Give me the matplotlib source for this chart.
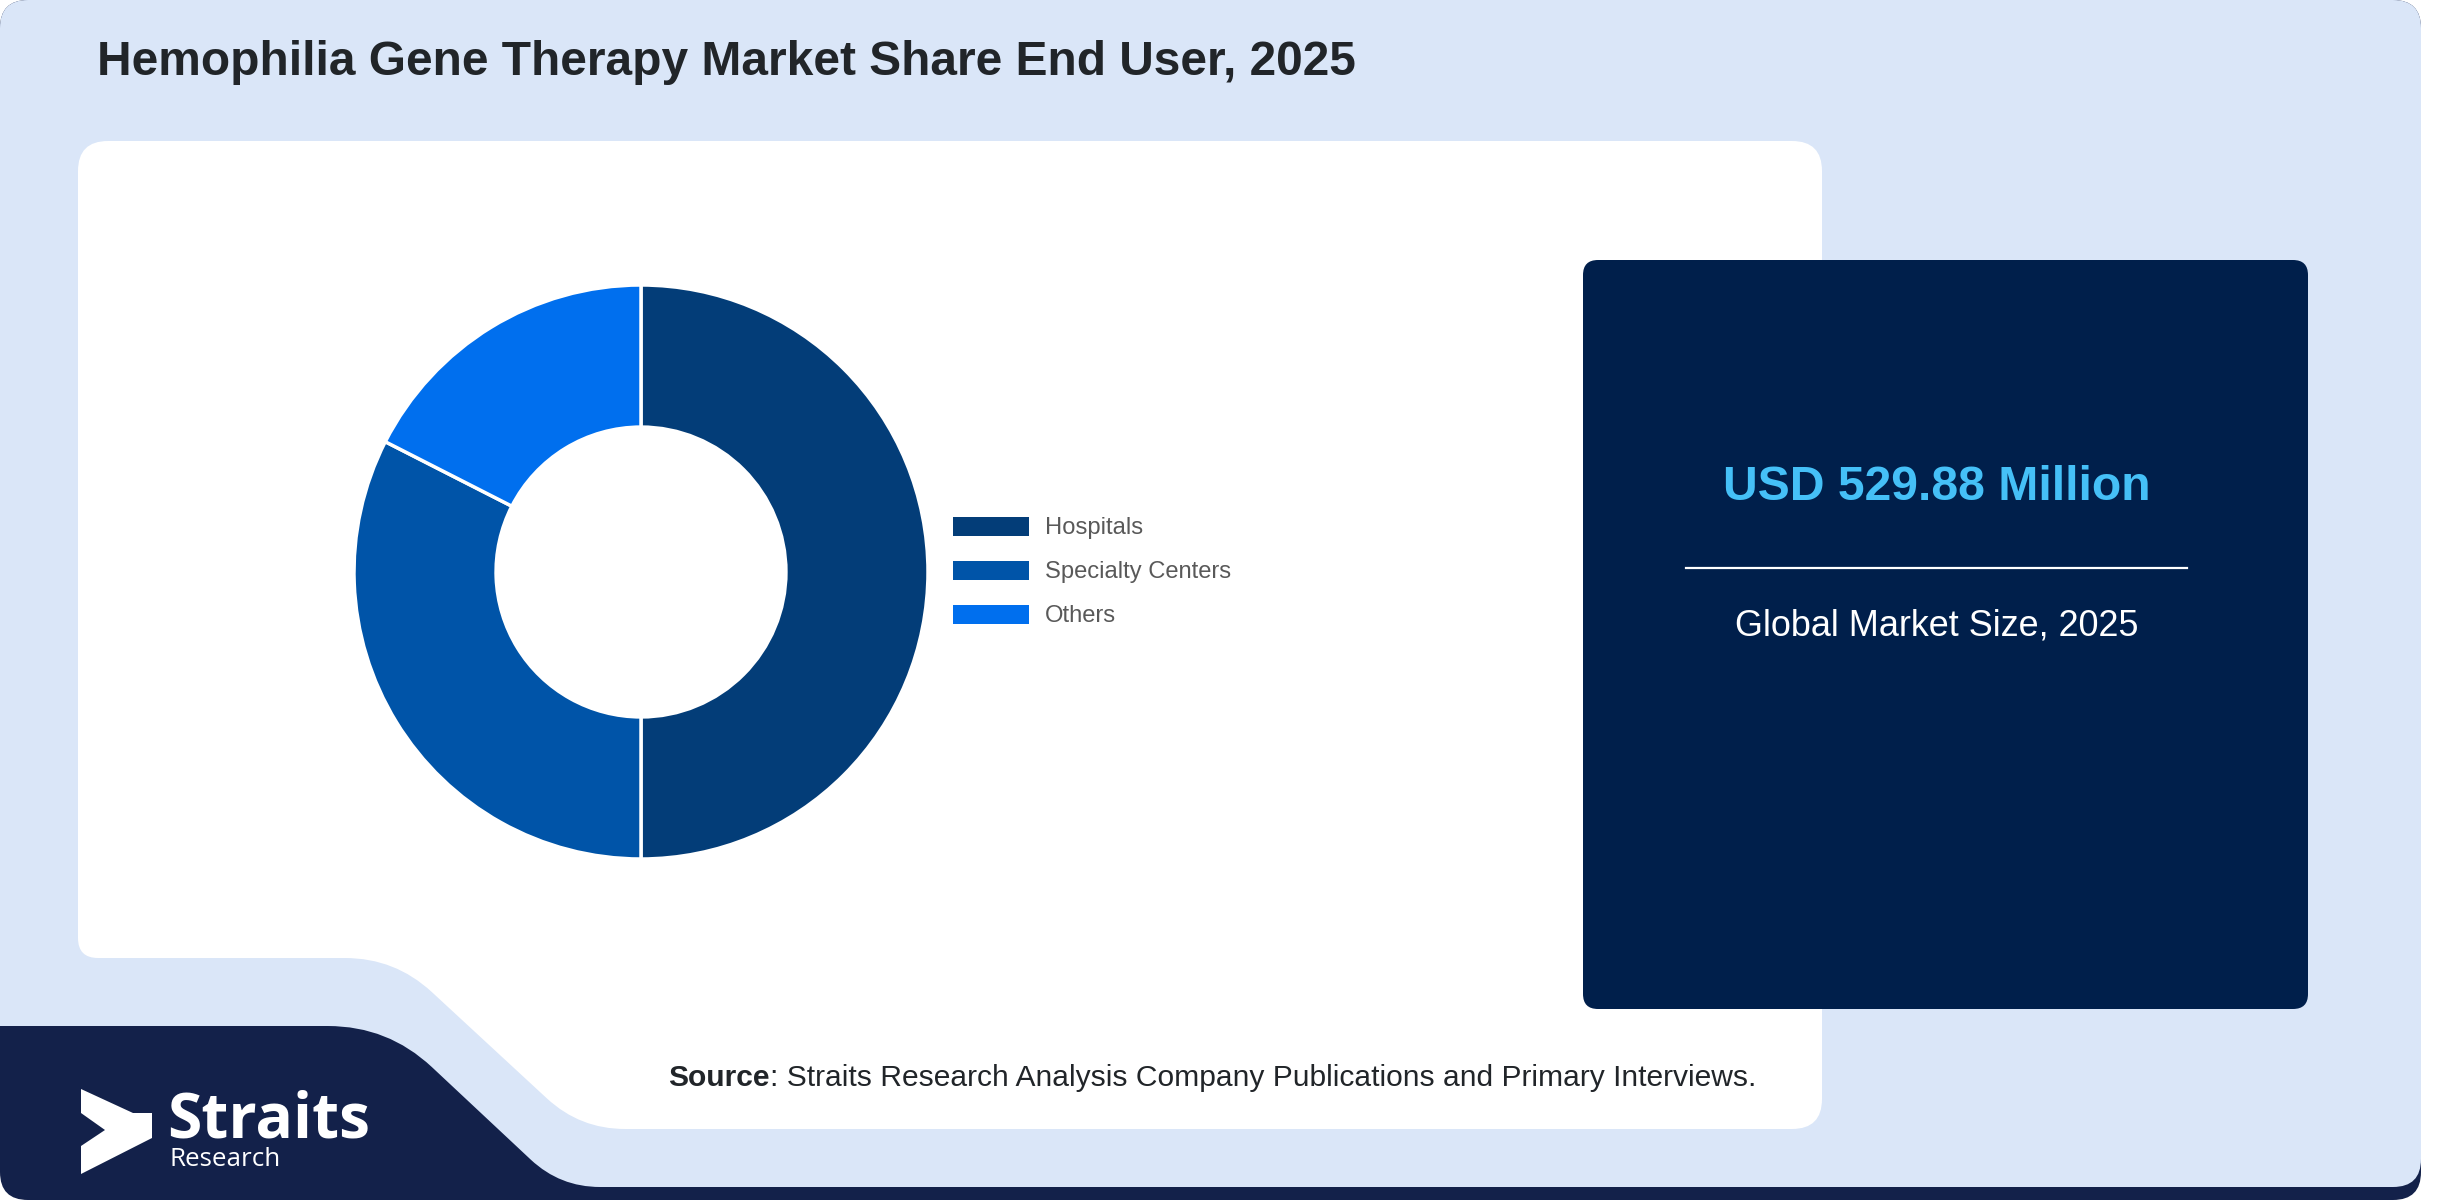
import numpy as np
import matplotlib
matplotlib.use("Agg")
import matplotlib.pyplot as plt
from matplotlib.path import Path
from matplotlib.patches import PathPatch, Polygon, Patch

# data
segments = ["Hospitals", "Specialty Centers", "Others"]
shares = [50.0, 32.5, 17.5]
seg_colors = ["#033d78", "#0054a8", "#006fee"]

title = "Hemophilia Gene Therapy Market Share End User, 2025"
market_value = "USD 529.88 Million"
market_label = "Global Market Size, 2025"
source_rest = ": Straits Research Analysis Company Publications and Primary Interviews."

W, H = 2452, 1200
plt.rcParams['font.family'] = ['Liberation Sans', 'DejaVu Sans']


def rounded_path(pts, radii):
    # polygon with quadratic-bezier corners, radius per vertex
    verts, codes = [], []
    n = len(pts)
    for i in range(n):
        p0 = np.array(pts[i - 1], float)
        p1 = np.array(pts[i], float)
        p2 = np.array(pts[(i + 1) % n], float)
        r = radii[i]
        d1 = (p0 - p1) / np.linalg.norm(p0 - p1)
        d2 = (p2 - p1) / np.linalg.norm(p2 - p1)
        a = p1 + d1 * r
        b = p1 + d2 * r
        verts.append(a)
        codes.append(Path.MOVETO if i == 0 else Path.LINETO)
        verts += [p1, b]
        codes += [Path.CURVE3, Path.CURVE3]
    verts.append(verts[0])
    codes.append(Path.CLOSEPOLY)
    return Path(verts, codes)


def rbox(ax, x0, y0, x1, y1, r, color, z):
    p = rounded_path([(x0, y0), (x1, y0), (x1, y1), (x0, y1)], [r] * 4)
    ax.add_patch(PathPatch(p, facecolor=color, edgecolor='none', zorder=z))


fig = plt.figure(figsize=(W / 100, H / 100), dpi=100)
fig.patch.set_facecolor("white")

ax = fig.add_axes([0, 0, 1, 1])
ax.set_xlim(0, W)
ax.set_ylim(H, 0)
ax.axis('off')

# card background
rbox(ax, 0, 0, 2421, 1200, 28, "#13214a", 0)
light = rounded_path([(0, 0), (2421, 0), (2421, 1187), (560, 1187), (388, 1026), (0, 1026)],
                     [28, 28, 28, 40, 60, 0])
ax.add_patch(PathPatch(light, facecolor="#dae6f8", edgecolor='none', zorder=1))

# white panel
panel = rounded_path([(78, 141), (1822, 141), (1822, 1129), (580, 1129), (395, 958), (78, 958)],
                     [30, 30, 30, 45, 50, 20])
ax.add_patch(PathPatch(panel, facecolor="white", edgecolor='none', zorder=2))

# dark value box
rbox(ax, 1583, 260, 2308, 1009, 15, "#001f4b", 2)

ax.text(97, 75, title, fontsize=34.5, fontweight='bold', color="#212529", va='baseline', zorder=5)

ax.text(1937, 500, market_value, fontsize=34.7, fontweight='bold', color="#45c0f7",
        ha='center', va='baseline', zorder=5)
ax.plot([1686, 2187], [568, 568], color="white", lw=1.6, zorder=5)
ax.text(1937, 635, market_label, fontsize=25.9, color="white", ha='center', va='baseline', zorder=5)

src = ax.text(668, 1086, "Source", fontsize=21.6, fontweight='bold', color="#212529",
              va='baseline', zorder=5)
ax.annotate(source_rest, xy=(1, 0), xycoords=src, fontsize=21.6, color="#212529",
            ha='left', va='bottom', zorder=5)

# logo
icon = [(81, 1089), (133, 1113), (152, 1113), (152, 1138), (81, 1174), (81, 1146), (105, 1130), (81, 1113)]
ax.add_patch(Polygon(icon, closed=True, facecolor="white", edgecolor='none', zorder=5))
ax.text(167, 1137, "Straits", fontsize=44.8, fontweight='bold', family='Open Sans', color="white",
        va='baseline', zorder=5)
ax.text(170, 1166, "Research", fontsize=18.7, family='Open Sans', color="white", va='baseline', zorder=5)

# donut
cx, cy, R = 641, 572, 287
pad = 1.05
ax_pie = fig.add_axes([(cx - R * pad) / W, 1 - (cy + R * pad) / H, 2 * R * pad / W, 2 * R * pad / H])
wedges, _ = ax_pie.pie(shares, colors=seg_colors, startangle=90, counterclock=False, radius=1,
                       wedgeprops=dict(width=0.495, edgecolor='white', linewidth=2.5))
ax_pie.set_xlim(-pad, pad)
ax_pie.set_ylim(-pad, pad)
ax_pie.axis('off')

handles = [Patch(facecolor=c, edgecolor='none') for c in seg_colors]
fig.legend(handles, segments, loc='center left', bbox_to_anchor=(953 / W, 1 - 572 / H),
           frameon=False, borderpad=0, borderaxespad=0, handlelength=3.2, handleheight=0.85,
           handletextpad=0.68, labelspacing=0.9, fontsize=17.1, labelcolor="#595959")

fig.savefig("out.png", dpi=100, facecolor=fig.get_facecolor())
